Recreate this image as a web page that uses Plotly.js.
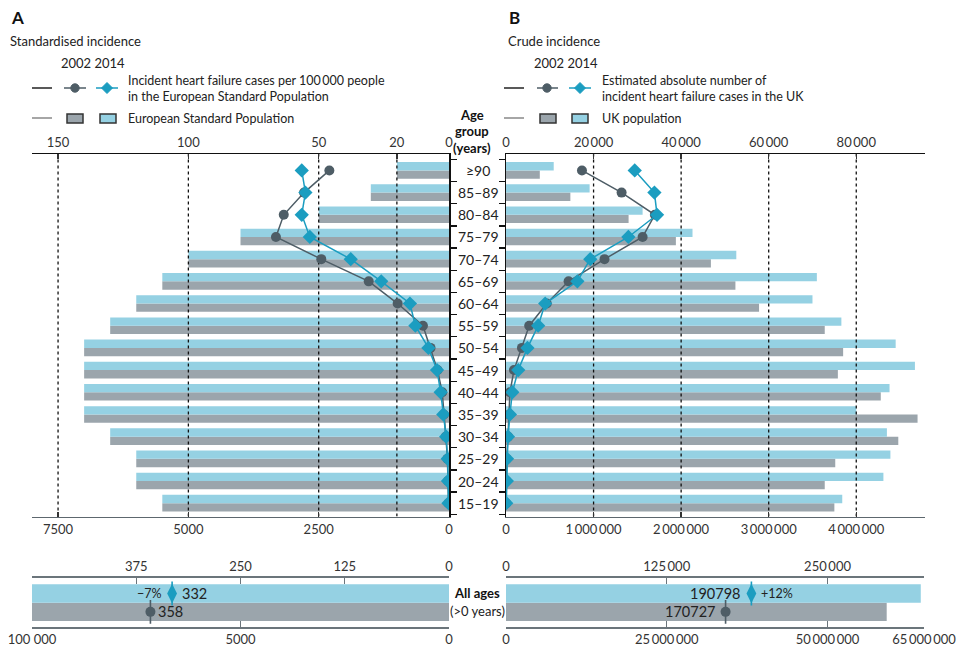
<!DOCTYPE html>
<html>
<head>
<meta charset="utf-8">
<script src="https://cdn.plot.ly/plotly-3.0.1.min.js"></script>
<style>html,body{margin:0;padding:0;background:#fff;}#chart{width:957px;height:649px;}</style>
</head>
<body>
<div id="chart"></div>
<script>
// ---------------- DATA ----------------
const ages = ['15–19','20–24','25–29','30–34','35–39','40–44','45–49','50–54','55–59','60–64','65–69','70–74','75–79','80–84','85–89','≥90'];
// European Standard Population (same in both years)
const espPop2002 = [5500,6000,6000,6500,7000,7000,7000,7000,6500,6000,5500,5000,4000,2500,1500,1000];
const espPop2014 = [5500,6000,6000,6500,7000,7000,7000,7000,6500,6000,5500,5000,4000,2500,1500,1000];
// Standardised incidence per 100 000
const stdInc2002 = [0.2,0.4,0.6,1.2,2.0,2.6,4.4,7.1,10.0,19.7,30.8,49.0,66.4,63.4,55.6,45.9];
const stdInc2014 = [0.2,0.4,0.5,1.1,2.2,3.2,4.6,7.9,12.9,15.0,26.0,37.7,53.4,56.5,55.1,56.5];
// UK population
const ukPop2002 = [3750000,3640000,3760000,4480000,4700000,4280000,3790000,3850000,3640000,2890000,2620000,2340000,1940000,1400000,735000,386000];
const ukPop2014 = [3840000,4310000,4390000,4350000,4000000,4380000,4670000,4450000,3830000,3500000,3550000,2630000,2130000,1560000,955000,545000];
// Estimated absolute number of incident HF cases
const cases2002 = [50,100,150,450,750,900,1820,3640,5300,9300,14300,22500,31200,34000,26400,17350];
const cases2014 = [50,200,230,450,900,1440,2800,4900,7350,8950,16300,19250,27950,34500,33900,29400];
// All ages (>0 years)
const allEsp = [100000,100000];           // [2002, 2014]
const allStdInc = [358,332];              // [2002, 2014]
const allUkPop = [59200000,64500000];     // [2002, 2014]
const allCases = [170727,190798];         // [2002, 2014]
// Tick values / labels
const leftTopTicks = [150,100,50,20,0];
const leftBottomTicks = [7500,5000,2500,0];
const rightTopTicks = [0,20000,40000,60000,80000];
const rightBottomTicks = [0,1000000,2000000,3000000,4000000];
const smallLeftTopTicks = [375,250,125,0];
const smallLeftBottomTicks = [100000,50000,0];
const smallLeftBottomLabels = ['100 000','5000','0'];
const smallRightTopTicks = [0,125000,250000];
const smallRightBottomTicks = [0,25000000,50000000,65000000];
const leftGrid = [150,100,50,20];
const rightGrid = [20000,40000,60000,80000];

// ---------------- STYLE ----------------
const W = 957, H = 649;
const FONT = 'Lato, "Liberation Sans", Arial, sans-serif';
const BLUE_BAR = '#95d1e3', GRAY_BAR = '#9ba5ac';
const C2002 = '#4e5d66', C2014 = '#1b9dc0';
const TXT = '#222';
const px = x => x / W, py = y => 1 - y / H;
const fmt = n => { const s = String(n); return n >= 10000 ? s.replace(/\B(?=(\d{3})+(?!\d))/g, '\u2009') : s; };
const rowIdx = ages.map((_, i) => i);
const halfTicks = ages.map((_, i) => i - 0.5).concat([ages.length - 0.5]);
const mainYRange = [-0.6, 15.74];
const smallYRange = [-0.84, 1.86];
const BW = 0.375;

const traces = [];
function bars(xs, xa, ya, color, offset) {
  traces.push({type:'bar', orientation:'h', x: xs, y: rowIdx, xaxis: xa, yaxis: ya,
    width: BW, offset: offset, marker:{color: color, line:{width:0}}, hoverinfo:'skip'});
}
bars(espPop2002, 'x', 'y', GRAY_BAR, -BW);
bars(espPop2014, 'x', 'y', BLUE_BAR, 0);
bars(ukPop2002, 'x3', 'y2', GRAY_BAR, -BW);
bars(ukPop2014, 'x3', 'y2', BLUE_BAR, 0);
// all ages bars
traces.push({type:'bar', orientation:'h', x: allEsp, y:[0,1], width:1, xaxis:'x5', yaxis:'y3',
  marker:{color:[GRAY_BAR, BLUE_BAR]}, hoverinfo:'skip'});
traces.push({type:'bar', orientation:'h', x: allUkPop, y:[0,1], width:1, xaxis:'x7', yaxis:'y4',
  marker:{color:[GRAY_BAR, BLUE_BAR]}, hoverinfo:'skip'});
// dotted gridlines (above bars)
leftGrid.forEach(v => traces.push({type:'scatter', mode:'lines', x:[v,v], y: mainYRange, xaxis:'x2', yaxis:'y',
  line:{color:'#111', width:1.3, dash:'3px,3px'}, hoverinfo:'skip'}));
rightGrid.forEach(v => traces.push({type:'scatter', mode:'lines', x:[v,v], y: mainYRange, xaxis:'x4', yaxis:'y2',
  line:{color:'#111', width:1.3, dash:'3px,3px'}, hoverinfo:'skip'}));
// incidence lines
function inc(xs, xa, ya, color, sym, size) {
  traces.push({type:'scatter', mode:'lines+markers', x: xs, y: rowIdx, xaxis: xa, yaxis: ya,
    line:{color: color, width:1.5}, marker:{color: color, symbol: sym, size: size}, hoverinfo:'skip'});
}
inc(stdInc2002, 'x2', 'y', C2002, 'circle', 10);
inc(stdInc2014, 'x2', 'y', C2014, 'diamond', 11);
inc(cases2002, 'x4', 'y2', C2002, 'circle', 10);
inc(cases2014, 'x4', 'y2', C2014, 'diamond', 11);
// all ages markers
function allMark(v, yv, xa, ya, color, sym, size) {
  traces.push({type:'scatter', mode:'markers', x:[v], y:[yv], xaxis:xa, yaxis:ya,
    marker:{symbol:'line-ns-open', size:17, color: color, line:{color: color, width:1.6}}, hoverinfo:'skip'});
  traces.push({type:'scatter', mode:'markers', x:[v], y:[yv], xaxis:xa, yaxis:ya,
    marker:{symbol:sym, size:size, color:color}, hoverinfo:'skip'});
}
allMark(allStdInc[0], 0, 'x6', 'y3', C2002, 'circle', 10);
allMark(allStdInc[1], 1, 'x6', 'y3', C2014, 'diamond-tall', 14);
allMark(allCases[0], 0, 'x8', 'y4', C2002, 'circle', 10);
allMark(allCases[1], 1, 'x8', 'y4', C2014, 'diamond-tall', 14);

// ---------------- AXES ----------------
const tickFont = {family: FONT, size: 13, color: '#333'};
function xax(o) {
  return Object.assign({showgrid:false, zeroline:false, showline:true, linewidth:1.5, ticks:'inside', ticklen:5,
    tickwidth:1.3, tickfont: tickFont, fixedrange:true, tickcolor:'#333'}, o);
}
const mainYDomain = [py(516.5), py(154)];
const smallYDomain = [py(627.3), py(577.7)];
const layout = {
  width: W, height: H, margin:{l:0, r:0, t:0, b:0}, paper_bgcolor:'#fff', plot_bgcolor:'rgba(0,0,0,0)',
  showlegend:false, barmode:'overlay', font:{family: FONT, color: TXT},
  xaxis: xax({domain:[px(32), px(449)], range:[8000,0], anchor:'y', side:'bottom', linecolor:'#5d676e',
    tickvals:leftBottomTicks, ticktext:leftBottomTicks.map(fmt)}),
  xaxis2: xax({overlaying:'x', anchor:'y', side:'top', range:[160,0], linecolor:'#111',
    tickvals:leftTopTicks, ticktext:leftTopTicks.map(fmt)}),
  yaxis: {domain: mainYDomain, range: mainYRange, anchor:'x', side:'right', showline:true, linecolor:'#111', linewidth:1.5,
    tickvals: halfTicks, ticks:'outside', ticklen:6, tickwidth:1.3, tickcolor:'#111', showticklabels:false,
    showgrid:false, zeroline:false, fixedrange:true},
  xaxis3: xax({domain:[px(506), px(925)], range:[0,4785000], anchor:'y2', side:'bottom', linecolor:'#5d676e',
    tickvals:rightBottomTicks, ticktext:rightBottomTicks.map(fmt)}),
  xaxis4: xax({overlaying:'x3', anchor:'y2', side:'top', range:[0,95700], linecolor:'#111',
    tickvals:rightTopTicks, ticktext:rightTopTicks.map(fmt)}),
  yaxis2: {domain: mainYDomain, range: mainYRange, anchor:'x3', side:'left', showline:true, linecolor:'#111', linewidth:1.5,
    tickvals: halfTicks, ticks:'outside', ticklen:6, tickwidth:1.3, tickcolor:'#111', showticklabels:false,
    showgrid:false, zeroline:false, fixedrange:true},
  xaxis5: xax({domain:[px(32), px(449)], range:[100000,0], anchor:'y3', side:'bottom', linecolor:'#6b757b', ticklen:6,
    tickcolor:'#6b757b', tickvals:smallLeftBottomTicks, ticktext:smallLeftBottomLabels}),
  xaxis6: xax({overlaying:'x5', anchor:'y3', side:'top', range:[500,0], linecolor:'#6b757b', ticklen:6, tickcolor:'#6b757b',
    tickvals:smallLeftTopTicks, ticktext:smallLeftTopTicks.map(fmt)}),
  yaxis3: {domain: smallYDomain, range: smallYRange, anchor:'x5', visible:false, fixedrange:true},
  xaxis7: xax({domain:[px(506), px(924)], range:[0,65000000], anchor:'y4', side:'bottom', linecolor:'#6b757b', ticklen:6,
    tickcolor:'#6b757b', tickvals:smallRightBottomTicks, ticktext:smallRightBottomTicks.map(fmt)}),
  xaxis8: xax({overlaying:'x7', anchor:'y4', side:'top', range:[0,325000], linecolor:'#6b757b', ticklen:6, tickcolor:'#6b757b',
    tickvals:smallRightTopTicks, ticktext:smallRightTopTicks.map(fmt)}),
  yaxis4: {domain: smallYDomain, range: smallYRange, anchor:'x7', visible:false, fixedrange:true},
  annotations: [], shapes: []
};

// ---------------- TEXT ----------------
const A = layout.annotations, S = layout.shapes;
function ann(text, x, y, o) {
  A.push(Object.assign({text: text, x: px(x), y: py(y), xref:'paper', yref:'paper', showarrow:false,
    xanchor:'left', yanchor:'middle', font:{family: FONT, size: 12.5, color: TXT}}, o || {}));
}
ann('<b>A</b>', 9, 18, {font:{family:FONT, size:17, color:'#111'}});
ann('<b>B</b>', 507, 18, {font:{family:FONT, size:17, color:'#111'}});
ann('Standardised incidence', 8, 41, {font:{family:FONT, size:13, color:TXT}});
ann('Crude incidence', 506, 41, {font:{family:FONT, size:13, color:TXT}});
ann('2002 2014', 59, 63, {font:{family:FONT, size:13, color:TXT}});
ann('2002 2014', 532, 63, {font:{family:FONT, size:13, color:TXT}});
ann('Incident heart failure cases per 100\u2009000 people', 126, 80);
ann('in the European Standard Population', 126, 97);
ann('European Standard Population', 126, 118);
ann('Estimated absolute number of', 600, 80);
ann('incident heart failure cases in the UK', 600, 97);
ann('UK population', 600, 118);
// age group header
ann('<b>Age</b>', 472, 115, {xanchor:'center', font:{family:FONT, size:13, color:'#111'}});
ann('<b>group</b>', 472, 131, {xanchor:'center', font:{family:FONT, size:13, color:'#111'}});
ann('<b>(years)</b>', 472, 148, {xanchor:'center', font:{family:FONT, size:13, color:'#111'}});
// age labels
ages.forEach((a, i) => A.push({text: a, x: px(478), y: i, xref:'paper', yref:'y', showarrow:false,
  xanchor:'center', yanchor:'middle', font:{family:FONT, size:14, color:TXT}}));
ann('<b>All ages</b>', 477, 593, {xanchor:'center', font:{family:FONT, size:13, color:'#111'}});
ann('(>0 years)', 477, 611, {xanchor:'center', font:{family:FONT, size:13, color:TXT}});
// all-ages value labels
const pct = (a, b) => { const p = Math.round((b - a) / a * 100); return (p < 0 ? '\u2212' + (-p) : '+' + p) + '%'; };
const valFont = {family:FONT, size:14.5, color:TXT};
const pctFont = {family:FONT, size:12.5, color:TXT};
A.push({text: pct(allStdInc[0], allStdInc[1]), x: allStdInc[1], y: 1, xref:'x6', yref:'y3', showarrow:false, xanchor:'right', xshift:-8, font:pctFont});
A.push({text: String(allStdInc[1]), x: allStdInc[1], y: 1, xref:'x6', yref:'y3', showarrow:false, xanchor:'left', xshift:8, font:valFont});
A.push({text: String(allStdInc[0]), x: allStdInc[0], y: 0, xref:'x6', yref:'y3', showarrow:false, xanchor:'left', xshift:6, font:valFont});
A.push({text: String(allCases[1]), x: allCases[1], y: 1, xref:'x8', yref:'y4', showarrow:false, xanchor:'right', xshift:-9, font:valFont});
A.push({text: pct(allCases[0], allCases[1]), x: allCases[1], y: 1, xref:'x8', yref:'y4', showarrow:false, xanchor:'left', xshift:8, font:pctFont});
A.push({text: String(allCases[0]), x: allCases[0], y: 0, xref:'x8', yref:'y4', showarrow:false, xanchor:'right', xshift:-9, font:valFont});

// ---------------- LEGEND GLYPHS ----------------
function seg(x0, x1, y, color) {
  S.push({type:'line', xref:'paper', yref:'paper', x0:px(x0), x1:px(x1), y0:py(y), y1:py(y), line:{color:color, width:1.5}});
}
function circ(cx, cy, r, color) {
  S.push({type:'circle', xref:'paper', yref:'paper', x0:px(cx-r), x1:px(cx+r), y0:py(cy+r), y1:py(cy-r), fillcolor:color, line:{color:color, width:1}});
}
function diam(cx, cy, r, color) {
  S.push({type:'path', xref:'paper', yref:'paper',
    path:`M ${px(cx)} ${py(cy-r)} L ${px(cx+r)} ${py(cy)} L ${px(cx)} ${py(cy+r)} L ${px(cx-r)} ${py(cy)} Z`,
    fillcolor:color, line:{color:color, width:1}});
}
function box(x0, x1, y0, y1, color) {
  S.push({type:'rect', xref:'paper', yref:'paper', x0:px(x0), x1:px(x1), y0:py(y1), y1:py(y0), fillcolor:color, line:{color:'#333', width:1.5}});
}
// panel A legend
seg(32, 52, 88, '#222');
seg(64, 86, 88, C2002); circ(75, 88, 4.2, C2002);
seg(96, 118, 88, C2014); diam(107, 88, 5.5, C2014);
seg(32, 52, 118, '#888');
box(67, 83, 114, 123, GRAY_BAR);
box(100, 116, 114, 123, BLUE_BAR);
// panel B legend
seg(504, 524, 88, '#222');
seg(537, 558, 88, C2002); circ(547, 88, 4.2, C2002);
seg(569, 591, 88, C2014); diam(580, 88, 5.5, C2014);
seg(504, 524, 118, '#888');
box(540, 556, 114, 123, GRAY_BAR);
box(572, 588, 114, 123, BLUE_BAR);

Plotly.newPlot('chart', traces, layout, {staticPlot:true, displayModeBar:false});
</script>
</body>
</html>
